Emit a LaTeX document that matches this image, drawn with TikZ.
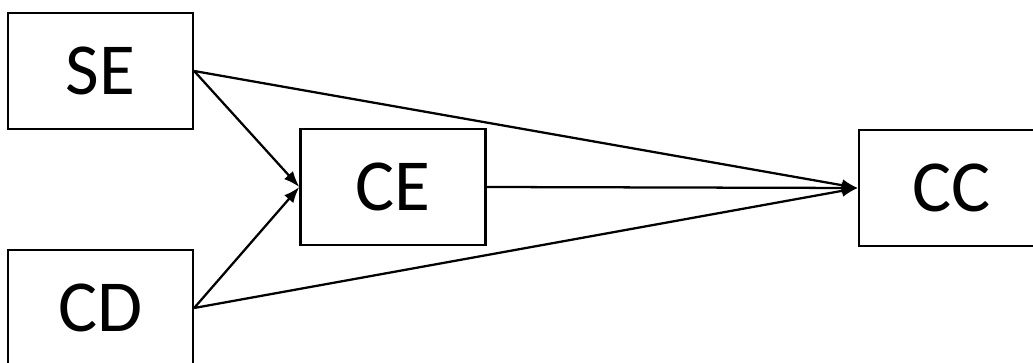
\documentclass[tikz,border=0pt]{standalone}
\usepackage{fontspec}
\setmainfont{Carlito}
\usetikzlibrary{arrows.meta}

\tikzset{every picture/.style={line width=1.7pt}}
\tikzset{
  box/.style={draw, rectangle, minimum width=138.75pt, minimum height=87pt, inner sep=0.75pt, font=\fontsize{55}{62}\selectfont},
  link/.style={-{Latex[length=12pt,width=9pt]}}
}

\begin{document}
\begin{tikzpicture}[x=0.75pt,y=0.75pt,yscale=-1,xscale=1]
	\useasboundingbox (0,0) rectangle (1033,363);
	
	% Text Node
	\node [box] (se) at (100.5,71) {SE};
	% Text Node
	\node [box] (cd) at (100.5,308) {CD};
	% Text Node
	\node [box] (ce) at (393,187) {CE};
	% Text Node
	\node [box] (cc) at (951.5,188) {CC};
	
	%Straight Lines
	\draw [link] (se.east) -- (ce.west) ;
	%Straight Lines
	\draw [link] (cd.east) -- (ce.west) ;
	%Straight Lines
	\draw [link] (ce.east) -- (cc.west) ;
	%Straight Lines
	\draw [link] (se.east) -- (cc.west) ;
	%Straight Lines
	\draw [link] (cd.east) -- (cc.west) ;
	
\end{tikzpicture}
\end{document}
